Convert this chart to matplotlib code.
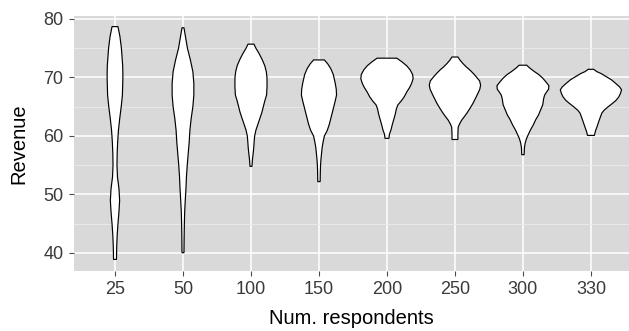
import numpy as np
import matplotlib
matplotlib.use("Agg")
import matplotlib.pyplot as plt

plt.rcParams['font.family'] = ['Liberation Sans', 'DejaVu Sans']

# categories (number of respondents)
groups = ["25", "50", "100", "150", "200", "250", "300", "330"]

# violin outlines: revenue level and density (half width, relative)
rev_25 = [78.7, 77, 75, 72, 70, 67, 65, 63, 61, 59, 57, 55, 53, 51, 49, 47, 45, 43, 41, 38.9]
den_25 = [3, 5, 6.5, 7.8, 8, 7.5, 6.3, 4.8, 3.5, 2.7, 2.2, 2, 2.5, 4, 4.7, 4, 3, 2.2, 1.7, 1.5]

rev_50 = [78.5, 77, 75, 73, 71, 69, 67, 65, 63, 61, 59, 57, 55, 53, 51, 49, 47, 45, 43, 40.05]
den_50 = [1, 2.5, 4.5, 7.5, 10, 11, 11, 10, 8.3, 7, 6.3, 5.3, 4.3, 3.5, 3, 2.3, 1.7, 1.4, 1.2, 1]

rev_100 = [75.7, 75, 74, 73, 72, 71, 70, 68.5, 67, 66, 65, 64, 63, 62, 61, 60, 59, 58, 57, 56, 54.8]
den_100 = [3, 5, 8.5, 11.5, 14, 15.5, 16.2, 16.3, 15.8, 14, 12.5, 11, 9, 7, 5, 3.7, 3.2, 2.8, 2.2, 1.5, 1]

rev_150 = [73, 72.3, 71.5, 70.5, 69, 68, 67, 66, 65, 64, 63, 62, 61, 60, 59, 58, 57, 56, 55, 54, 52.2]
den_150 = [5.5, 9, 12, 14.5, 16.5, 17.5, 17.8, 16.5, 15, 13.5, 12, 10.5, 8.5, 5.5, 4.2, 3.2, 2.6, 2, 1.6, 1.4, 1.2]

rev_200 = [73.3, 72.7, 72, 71.3, 70.5, 69.8, 69, 68.3, 67.5, 66.7, 66, 65.3, 64.6, 63.8, 63, 62, 61, 60.3, 59.6]
den_200 = [10, 15, 20, 23.5, 26, 26.5, 25, 23, 20, 17.5, 14.5, 11, 9.5, 8.5, 7.2, 5.5, 4, 2.5, 2]

rev_250 = [73.5, 73, 72.4, 71.8, 71.3, 70.7, 70.1, 69.4, 68.7, 68, 67.3, 66.5, 65.6, 64.8, 64, 63.3, 62.7, 62, 61.5, 60.5, 59.4]
den_250 = [3, 5, 8, 11.5, 15, 18.5, 21.7, 25, 26, 25.2, 23.3, 21, 18.3, 15.5, 12.5, 9.5, 6.8, 4.5, 3.3, 3, 3]

rev_300 = [72.1, 71.6, 71, 70.5, 69.9, 69.2, 68.6, 68, 67.6, 67, 66.4, 65.8, 65.3, 64.5, 63.6, 62.8, 61.9, 61, 60.2, 59.5, 58.8, 58, 56.8]
den_300 = [3.8, 7, 11.7, 16, 20, 23.5, 26.3, 26, 24.3, 22, 21, 20.5, 20, 18, 15.8, 13, 10.5, 7.5, 5.3, 3.5, 2.3, 1.5, 1.2]

rev_330 = [71.4, 71, 70.7, 70.2, 69.6, 69, 68.4, 67.9, 67.3, 66.7, 66.1, 65.6, 65, 64.4, 63.9, 63.3, 62.5, 61.6, 60.8, 60.1]
den_330 = [2.7, 6, 10, 15, 20.8, 25, 29, 31, 30, 28.3, 25.5, 22, 17.5, 13.3, 11, 9.7, 8, 6.2, 4.5, 3.5]

revs = [rev_25, rev_50, rev_100, rev_150, rev_200, rev_250, rev_300, rev_330]
dens = [den_25, den_50, den_100, den_150, den_200, den_250, den_300, den_330]

fig = plt.figure(figsize=(6.29, 3.31), dpi=100)
ax = fig.add_axes([74 / 629, 60 / 331, 555 / 629, 255 / 331])
ax.set_facecolor('#D9D9D9')

# scale='area': widest density across all groups gets half of width 0.9
dmax = max(max(d) for d in dens)
for i, (r, d) in enumerate(zip(revs, dens)):
    pos = i + 1
    hw = np.array(d) / dmax * 0.45
    r = np.array(r)
    xs = np.concatenate([pos - hw, (pos + hw)[::-1]])
    ys = np.concatenate([r, r[::-1]])
    ax.fill(xs, ys, facecolor='white', edgecolor='black', linewidth=0.85, zorder=3)

ax.set_xlim(0.397, 8.56)
ax.set_ylim(36.92, 80.51)
ax.set_xticks(range(1, len(groups) + 1))
ax.set_xticklabels(groups)
ax.set_yticks([40, 50, 60, 70, 80])
ax.set_yticks([45, 55, 65, 75], minor=True)

ax.grid(True, which='major', color='white', linewidth=1.1, zorder=1)
ax.grid(True, which='minor', axis='y', color='#EBEBEB', linewidth=0.6, zorder=1)
ax.set_axisbelow(True)
for s in ax.spines.values():
    s.set_visible(False)

ax.tick_params(axis='both', which='major', length=3.5, width=0.8, color='#4D4D4D',
               labelsize=13, labelcolor='#3A3A3A', pad=4)
ax.tick_params(axis='y', which='minor', length=0)

ax.set_xlabel('Num. respondents', fontsize=14.5, va='center')
ax.set_ylabel('Revenue', fontsize=14.5, va='center')
ax.xaxis.set_label_coords(0.5, (271 - 318) / 255)
ax.yaxis.set_label_coords((19 - 74) / 555, 0.5)

fig.savefig('out.png', dpi=100)
